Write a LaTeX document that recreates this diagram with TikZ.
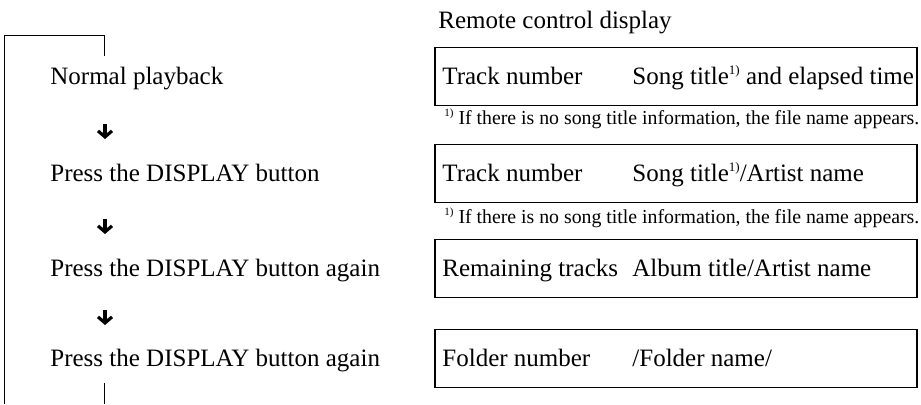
\documentclass[tikz,border=0pt]{standalone}
\usepackage{fontspec}
\setmainfont{Liberation Serif}
\usepackage{tikz}
\usetikzlibrary{arrows.meta,calc}
\newcommand{\fnmark}[1]{\raisebox{0.85ex}{\fontsize{6.5}{7}\selectfont #1}}
\newcommand{\smallfnmark}[1]{\raisebox{0.85ex}{\fontsize{5.5}{6}\selectfont #1}}

\begin{document}
\begin{tikzpicture}[x=0.5pt, y=-0.5pt,
  txt/.style={anchor=base west, inner sep=0pt, font=\fontsize{12.5}{15}\selectfont},
  note/.style={anchor=base west, inner sep=0pt, font=\fontsize{9.9}{12}\selectfont},
  dispbox/.style={draw, line width=0.7pt, minimum width=241pt, minimum height=29pt, inner sep=0pt},
  flow/.style={line width=1.6pt, -{Straight Barb[length=3pt,width=7pt]}}]
\useasboundingbox (0,0) rectangle (921,404);
% steps on the left
\node[txt] (n1) at (50,84) {Normal playback};
\node[txt] (n2) at (50,181) {Press the DISPLAY button};
\node[txt] (n3) at (50,276) {Press the DISPLAY button again};
\node[txt] (n4) at (50,366) {Press the DISPLAY button again};
\coordinate (col) at (105,0);
\foreach \a/\d in {n1/40, n2/38, n3/34}{
  \draw[flow] (\a.base -| col) ++(0,\d) -- ++(0,15);
}
% loop back line
\coordinate (loopin) at (104,56);
\coordinate (loopout) at (104,383);
\draw[line width=0.5pt] (loopin) |- (4,35) -- (4,404);
\draw[line width=0.5pt] (loopout) -- (104,404);
% remote control display
\node[txt] (title) at (438,28) {Remote control display};
\node[dispbox] (d1) at (676,76.5) {};
\node[dispbox] (d2) at (676,173.5) {};
\node[dispbox] (d3) at (676,268.5) {};
\node[dispbox] (d4) at (676,358.5) {};
\node[txt] (d1a) at (442,84) {Track number};
\node[txt] (d1b) at (632,84) {Song title\fnmark{1)} and elapsed time};
\node[note] (f1) at (444,124) {\smallfnmark{1)} If there is no song title information, the file name appears.};
\node[txt] (d2a) at (442,181) {Track number};
\node[txt] (d2b) at (632,181) {Song title\fnmark{1)}/Artist name};
\node[note] (f2) at (444,223) {\smallfnmark{1)} If there is no song title information, the file name appears.};
\node[txt] (d3a) at (442,276) {Remaining tracks};
\node[txt] (d3b) at (632,276) {Album title/Artist name};
\node[txt] (d4a) at (442,366) {Folder number};
\node[txt] (d4b) at (632,366) {/Folder name/};
\end{tikzpicture}
\end{document}
